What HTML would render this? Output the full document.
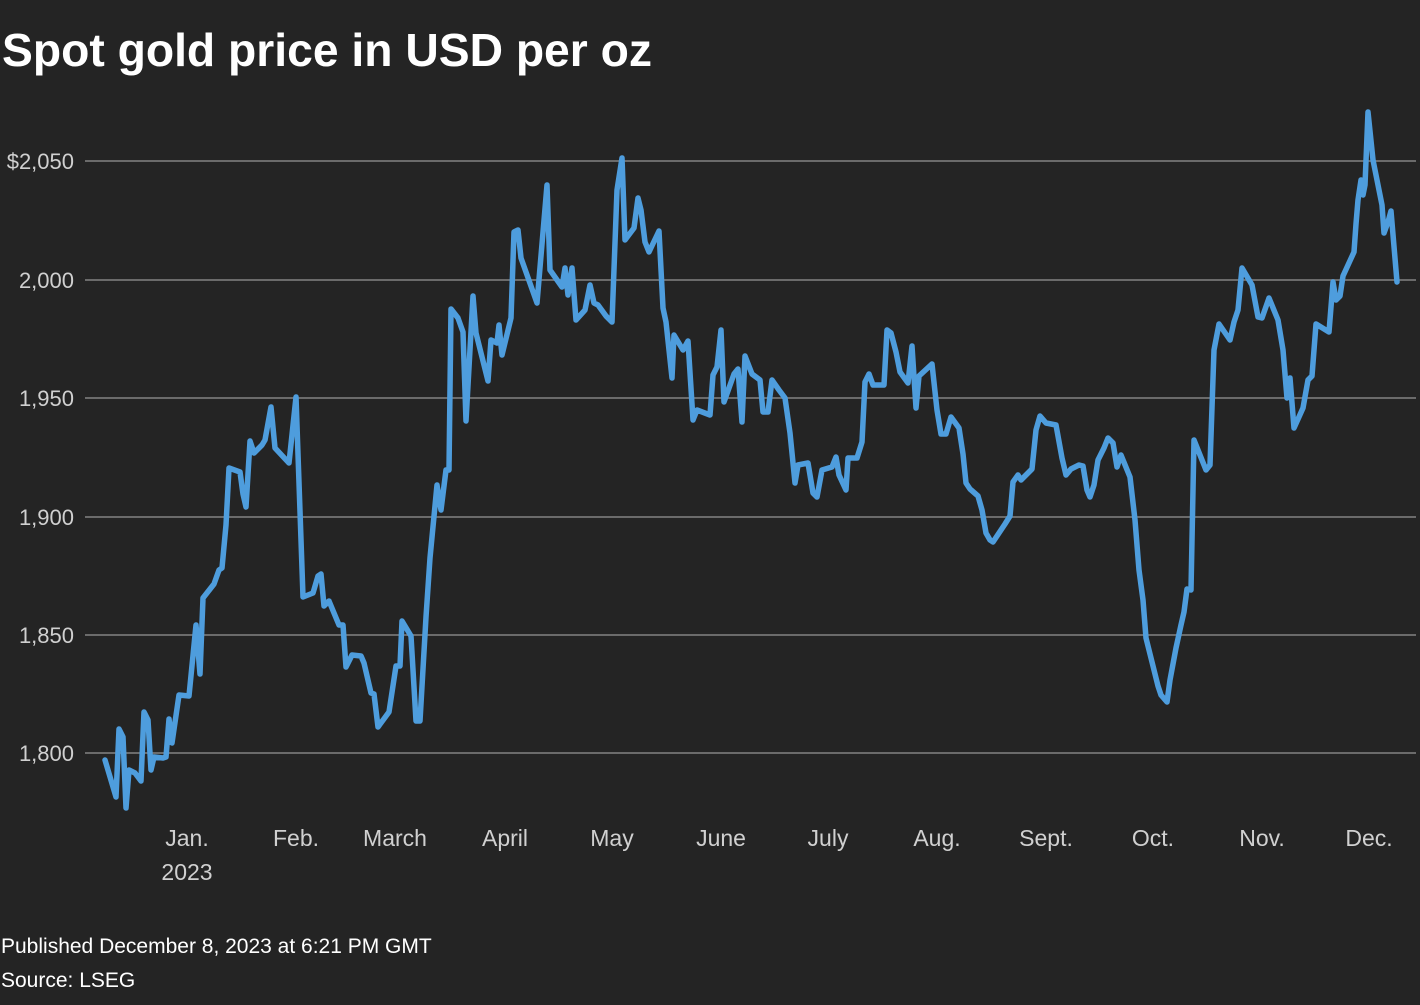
<!DOCTYPE html>
<html><head><meta charset="utf-8"><style>
html,body{margin:0;padding:0;background:#242424;}
body{width:1420px;height:1000px;overflow:hidden;font-family:"Liberation Sans",sans-serif;}
</style></head><body>
<svg width="1420" height="1000" xmlns="http://www.w3.org/2000/svg">
<rect width="1420" height="1000" fill="#242424"/>
<text x="2" y="66" fill="#ffffff" font-size="46" font-weight="bold" font-family="Liberation Sans, sans-serif" textLength="650" lengthAdjust="spacingAndGlyphs">Spot gold price in USD per oz</text>
<g stroke="#6b6b6b" stroke-width="2">
<line x1="85" y1="161" x2="1416" y2="161"/>
<line x1="85" y1="280" x2="1416" y2="280"/>
<line x1="85" y1="398" x2="1416" y2="398"/>
<line x1="85" y1="517" x2="1416" y2="517"/>
<line x1="85" y1="635" x2="1416" y2="635"/>
<line x1="85" y1="753" x2="1416" y2="753"/>
</g>
<g fill="#d0d0d0" font-size="22" text-anchor="end" font-family="Liberation Sans, sans-serif">
<text x="74" y="169">$2,050</text>
<text x="74" y="288">2,000</text>
<text x="74" y="406">1,950</text>
<text x="74" y="525">1,900</text>
<text x="74" y="643">1,850</text>
<text x="74" y="761">1,800</text>
</g>
<g fill="#d0d0d0" font-size="23" text-anchor="middle" font-family="Liberation Sans, sans-serif">
<text x="187" y="846">Jan.</text>
<text x="187" y="880">2023</text>
<text x="296" y="846">Feb.</text>
<text x="395" y="846">March</text>
<text x="505" y="846">April</text>
<text x="612" y="846">May</text>
<text x="721" y="846">June</text>
<text x="828" y="846">July</text>
<text x="937" y="846">Aug.</text>
<text x="1046" y="846">Sept.</text>
<text x="1153" y="846">Oct.</text>
<text x="1262" y="846">Nov.</text>
<text x="1369" y="846">Dec.</text>
</g>
<polyline fill="none" stroke="#4e9ddd" stroke-width="5.5" stroke-linejoin="round" stroke-linecap="round" points="105,760 116,797 119,729 123,737 126,808 129,770 135,773 141,781 144,712 148,720 151,770 154,757 163,758 166,757 169,719 172,743 179,695 189,696 196,625 200,674 203,598 214,584 219,570 222,568 226,525 229,468 240,472 243,494 246,507 250,441 254,453 262,445 265,440 271,407 275,448 289,463 296,397 303,597 313,593 318,576 321,574 324,606 329,601 339,625 343,625 346,667 352,655 361,656 364,663 371,693 374,694 378,727 389,712 396,666 400,666 402,621 411,636 416,721 420,721 426,617 430,558 437,485 441,510 446,470 449,470 451,309 458,318 463,332 466,421 473,296 476,333 488,381 491,340 497,343 499,325 502,355 511,318 514,232 518,230 521,258 537,303 547,185 550,270 562,287 565,268 568,295 572,268 576,320 585,310 590,285 594,303 598,305 606,316 612,322 617,190 622,158 625,240 634,228 638,198 641,210 645,242 649,252 659,231 663,308 666,322 672,378 674,335 683,350 688,341 693,420 697,410 710,415 713,375 717,367 721,330 724,402 734,374 738,369 742,422 745,356 752,374 760,380 763,412 768,412 772,380 779,390 785,398 790,433 795,483 798,465 808,463 813,493 817,497 822,470 832,467 836,457 839,475 846,490 848,458 857,458 862,442 865,382 869,374 873,385 884,385 887,330 891,333 896,352 900,372 908,383 912,346 916,408 919,376 932,364 937,410 941,434 946,434 951,417 959,428 963,454 966,483 970,489 978,496 982,510 986,533 990,540 993,542 1005,524 1010,516 1013,482 1018,475 1021,480 1032,469 1036,430 1040,416 1046,423 1056,425 1062,458 1066,475 1071,469 1079,465 1083,466 1087,490 1090,497 1094,485 1098,460 1104,448 1108,438 1113,443 1117,467 1121,455 1130,477 1135,520 1139,570 1143,600 1146,638 1152,662 1158,686 1161,695 1167,702 1170,680 1176,648 1181,625 1184,612 1187,589 1191,590 1194,440 1206,470 1210,465 1214,350 1219,324 1230,340 1234,322 1238,310 1242,268 1252,285 1258,317 1262,318 1269,298 1278,320 1283,350 1287,398 1290,378 1294,428 1303,408 1308,380 1312,376 1316,324 1329,332 1333,282 1336,300 1340,296 1343,276 1354,252 1356,224 1358,200 1361,180 1363,195 1365,185 1368,112 1373,160 1378,185 1382,205 1384,233 1388,222 1391,211 1397,282"/>
<g fill="#ffffff" font-size="21" font-family="Liberation Sans, sans-serif">
<text x="1" y="953">Published December 8, 2023 at 6:21 PM GMT</text>
<text x="1" y="987">Source: LSEG</text>
</g>
</svg>
</body></html>
